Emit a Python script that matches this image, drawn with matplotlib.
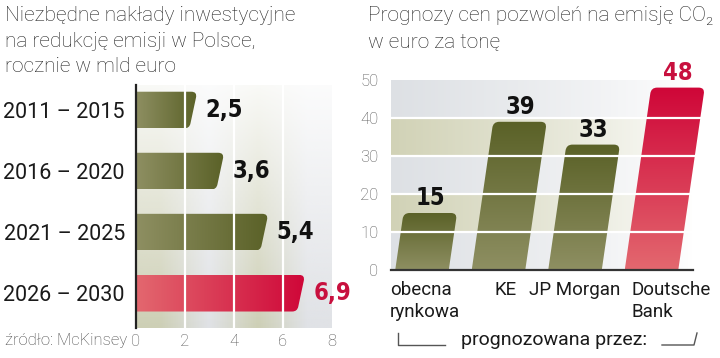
import numpy as np
import matplotlib
matplotlib.use("Agg")
import matplotlib.pyplot as plt
from matplotlib import font_manager
from matplotlib.colors import LinearSegmentedColormap, to_rgb
from matplotlib.patches import PathPatch
from matplotlib.path import Path
from matplotlib.transforms import IdentityTransform
from matplotlib.lines import Line2D

# --- data ---
periods = ["2011 – 2015", "2016 – 2020", "2021 – 2025", "2026 – 2030"]
investments = [2.5, 3.6, 5.4, 6.9]
inv_ticks = [0, 2, 4, 6, 8]

sources = ["obecna\nrynkowa", "KE", "JP Morgan", "Doutsche\nBank"]
prices = [15, 39, 33, 48]
price_ticks = [0, 10, 20, 30, 40, 50]

title_left = "Niezbędne nakłady inwestycyjne\nna redukcję emisji w Polsce,\nrocznie w mld euro"
title_right = "Prognozy cen pozwoleń na emisję CO₂\nw euro za tonę"
source_note = "źródło: McKinsey"
bracket_note = "prognozowana przez:"

# --- fonts ---
names = {f.name for f in font_manager.fontManager.ttflist}
BASE = "Roboto" if "Roboto" in names else "DejaVu Sans"
plt.rcParams["font.family"] = [BASE, "DejaVu Sans"]


def _w(f):
    wd = {"bold": 700, "heavy": 800, "black": 900, "demibold": 600}
    return f.weight if isinstance(f.weight, int) else wd.get(f.weight, 400)


cond_bold = [f for f in font_manager.fontManager.ttflist
             if ("Condensed" in f.name or "Narrow" in f.name
                 or f.stretch in ("condensed", "semi-condensed", 75, 87))
             and _w(f) >= 700 and f.style == "normal"]
if cond_bold:
    VAL_FONT = dict(fontproperties=font_manager.FontProperties(fname=cond_bold[0].fname, size=17))
else:
    VAL_FONT = dict(fontsize=17, fontweight="bold")

OLIVE_CM = LinearSegmentedColormap.from_list("ol", ["#8e8f62", "#5a6127"])
RED_CM = LinearSegmentedColormap.from_list("rd", ["#e3686f", "#cf0638"])
RED_TXT = "#c8103e"
GRAY_TXT = "#555555"

fig = plt.figure(figsize=(7.2, 3.58), dpi=100)


def fig_xy(px, py):
    return px / 720, 1 - py / 358


def rounded(pts, radii):
    verts, codes = [], []
    n = len(pts)
    for k in range(n):
        p = np.array(pts[k])
        r = radii[k]
        if r <= 0:
            verts.append(p)
            codes.append(Path.LINETO)
            continue
        a = np.array(pts[k - 1]) - p
        b = np.array(pts[(k + 1) % n]) - p
        p1 = p + r * a / np.hypot(*a)
        p2 = p + r * b / np.hypot(*b)
        verts += [p1, p, p2]
        codes += [Path.LINETO, Path.CURVE3, Path.CURVE3]
    codes[0] = Path.MOVETO
    verts.append(verts[0])
    codes.append(Path.CLOSEPOLY)
    return Path(verts, codes)


def gradient_fill(ax, verts, radii, cmap, horizontal, extent):
    px = ax.transData.transform(verts)
    path = rounded(px, radii)
    patch = PathPatch(path, transform=IdentityTransform(), facecolor="none",
                      edgecolor="none")
    ax.add_patch(patch)
    g = np.linspace(0, 1, 256)
    g = g.reshape(1, -1) if horizontal else g.reshape(-1, 1)
    im = ax.imshow(g, cmap=cmap, extent=extent, origin="lower",
                   aspect="auto", interpolation="bilinear", zorder=2)
    im.set_clip_path(patch)


# ---------------- left panel ----------------
axl = fig.add_axes([136 / 720, 1 - 328 / 358, 196 / 720, 243 / 358])
ylo, yhi = 3.57, -0.41
axl.set_xlim(inv_ticks[0], inv_ticks[-1])
axl.set_ylim(ylo, yhi)

band_cols = ["#cdcfb5", "#e0e2e6"]
ny = 120
bg = np.zeros((ny, len(inv_ticks) - 1, 4))
for j in range(len(inv_ticks) - 1):
    bg[:, j, :3] = to_rgb(band_cols[j % 2])
bg[:, :, 3] = np.linspace(0.12, 1.0, ny)[:, None]
axl.imshow(bg, extent=[inv_ticks[0], inv_ticks[-1], ylo, yhi], origin="upper",
           aspect="auto", interpolation="bilinear", zorder=0)

h = 0.6
slant = 0.32
for i, v in enumerate(investments):
    last = i == len(investments) - 1
    cm = RED_CM if last else OLIVE_CM
    top, bot = i - h / 2, i + h / 2
    verts = [(0, top), (v, top), (v - slant, bot), (0, bot)]
    gradient_fill(axl, verts, [0, 6, 5, 0], cm, True, [0, v, bot, top])
    axl.annotate(f"{v:.1f}".replace(".", ","), (v, i), xytext=(6, 0),
                 textcoords="offset points", va="center", ha="left",
                 color=RED_TXT if last else "#111111", zorder=5, **VAL_FONT)

for t in inv_ticks[1:-1]:
    axl.axvline(t, color="white", lw=1.6, zorder=3)

axl.set_xlim(inv_ticks[0], inv_ticks[-1])
axl.set_ylim(ylo, yhi)
axl.set_xticks(inv_ticks)
axl.set_xticklabels([str(t) for t in inv_ticks], color=GRAY_TXT, fontsize=12,
                    fontweight="light")
axl.set_yticks(range(len(periods)))
axl.set_yticklabels(periods, fontsize=15.5, color="#1a1a1a")
axl.tick_params(length=0, axis="y", pad=8)
axl.tick_params(length=0, axis="x", pad=4)
for s in ["top", "right", "bottom"]:
    axl.spines[s].set_visible(False)
axl.spines["left"].set_color("#222222")
axl.spines["left"].set_linewidth(1.6)
axl.spines["left"].set_zorder(6)

# ---------------- right panel ----------------
axr = fig.add_axes([391 / 720, 1 - 270 / 358, 319 / 720, 190 / 358])
unit = 76.5
xlo, xhi = -31 / unit, (710 - 422) / unit
bg_right = (693 - 422) / unit
axr.set_xlim(xlo, xhi)
axr.set_ylim(price_ticks[0], price_ticks[-1])

band_cols_r = ["#dde0e4", "#d1d2b6"]
nx = 160
bgr = np.zeros((len(price_ticks) - 1, nx, 4))
for j in range(len(price_ticks) - 1):
    bgr[j, :, :3] = to_rgb(band_cols_r[j % 2])
bgr[:, :, 3] = np.linspace(1.0, 0.0, nx)[None, :] ** 0.8
axr.imshow(bgr, extent=[xlo, bg_right, price_ticks[0], price_ticks[-1]], origin="lower",
           aspect="auto", interpolation="nearest", zorder=0)

w = 0.70
lean = 0.0072
label_shift = [3, 7, 0, 20]
for i, v in enumerate(prices):
    last = i == len(prices) - 1
    cm = RED_CM if last else OLIVE_CM
    dx = lean * v
    verts = [(i - w / 2, 0), (i + w / 2, 0), (i + w / 2 + dx, v), (i - w / 2 + dx, v)]
    gradient_fill(axr, verts, [0, 0, 6, 6], cm, False, [i - w / 2, i + w / 2 + dx, 0, v])
    axr.annotate(str(v), (i + dx, v), xytext=(0, 2),
                 textcoords="offset points", ha="center", va="bottom",
                 color=RED_TXT if last else "#111111", zorder=5,
                 annotation_clip=False, **VAL_FONT)
    axr.annotate(sources[i], (i, 0), xycoords=("data", "axes fraction"),
                 xytext=(label_shift[i] * 0.72, -8), textcoords="offset points",
                 ha="center", va="top", multialignment="left", fontsize=13.5,
                 color="#1a1a1a", linespacing=1.25)

for t in price_ticks[1:-1]:
    axr.plot([xlo, bg_right + 0.1], [t, t], color="white", lw=1.6, zorder=3)

axr.set_xlim(xlo, xhi)
axr.set_ylim(price_ticks[0], price_ticks[-1])
axr.set_xticks([])
axr.set_yticks(price_ticks)
axr.set_yticklabels([str(t) for t in price_ticks], color=GRAY_TXT, fontsize=12,
                    fontweight="light")
axr.tick_params(length=0, axis="y", pad=9)
for s in ["top", "right", "left"]:
    axr.spines[s].set_visible(False)
axr.spines["bottom"].set_color("#333333")
axr.spines["bottom"].set_linewidth(1.6)
axr.spines["bottom"].set_zorder(6)
axr.spines["bottom"].set_bounds(xlo, bg_right)

# ---------------- texts ----------------
fig.text(5 / 720, 1 - 6 / 358, title_left, ha="left", va="top", fontsize=15,
         fontweight="light", color="#222222", linespacing=1.45)
fig.text(368 / 720, 1 - 6 / 358, title_right, ha="left", va="top", fontsize=15,
         fontweight="light", color="#222222", linespacing=1.45)
fig.text(5 / 720, 1 - 341 / 358, source_note, ha="left", va="center", fontsize=12,
         fontweight="light", color="#444444")
fig.text(*fig_xy(554, 340), bracket_note, ha="center", va="center", fontsize=14,
         color="#1a1a1a")

for pts in ([(398, 333), (398, 345), (445, 345)], [(662, 345), (694, 345), (697, 333)]):
    xs, ys = zip(*[fig_xy(*p) for p in pts])
    fig.add_artist(Line2D(xs, ys, color="#555555", lw=1))

fig.savefig("out.png", dpi=100)
